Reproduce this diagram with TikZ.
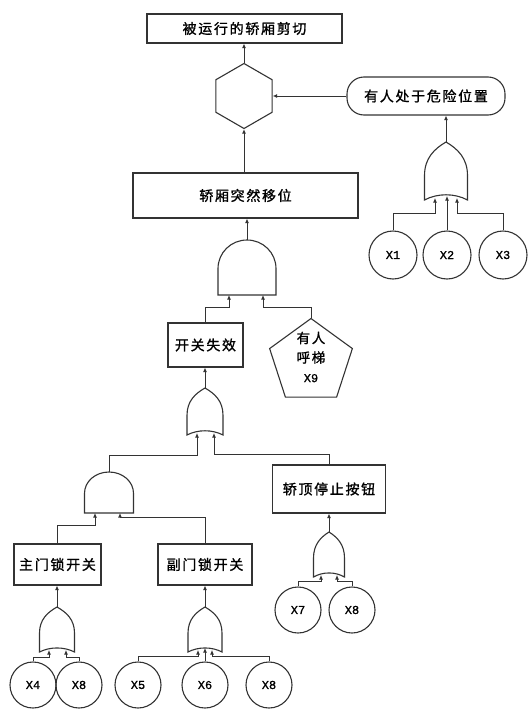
\documentclass[tikz,border=0pt]{standalone}
\usepackage{fontspec}
\setmainfont{Noto Sans CJK SC}[FakeBold=1]
\newfontfamily\cjkwide{Noto Sans CJK SC}[LetterSpace=12,FakeBold=1.2]
\newfontfamily\monof{Liberation Mono}[FakeBold=1]
\usetikzlibrary{shapes.geometric,arrows.meta,calc}
\definecolor{ln}{HTML}{333333}
\newcommand{\ORgate}[5]{%
  \pgfmathsetmacro{\gH}{#4-#3}%
  \pgfmathsetmacro{\gM}{(#3+#4)/2}%
  \node[gatebox, minimum width=2*#5pt, minimum height=\gH pt] (#1) at (#2,\gM) {};
  \begin{scope}[shift={(#1.south)}, x=#5pt, y=\gH pt]
    \draw[gateline] (-1,0) -- (-1,0.42) .. controls (-1,0.72) and (-0.55,0.88) .. (0,1)
      .. controls (0.55,0.88) and (1,0.72) .. (1,0.42) -- (1,0)
      .. controls (0.4,0.12) and (-0.4,0.12) .. cycle;
  \end{scope}}
\newcommand{\ANDgate}[5]{%
  \pgfmathsetmacro{\gH}{#4-#3}%
  \pgfmathsetmacro{\gM}{(#3+#4)/2}%
  \node[gatebox, minimum width=2*#5pt, minimum height=\gH pt] (#1) at (#2,\gM) {};
  \begin{scope}[shift={(#1.south)}, x=#5pt, y=\gH pt]
    \draw[gateline] (-1,0) -- (-1,0.48) .. controls (-1,0.77) and (-0.552,1) .. (0,1)
      .. controls (0.552,1) and (1,0.77) .. (1,0.48) -- (1,0) -- cycle;
  \end{scope}}
\begin{document}
\begin{tikzpicture}[x=1pt, y=-1pt,
  box/.style={draw=ln, line width=1.1pt, inner sep=0, align=center, fill=white,
    font=\cjkwide\fontsize{14}{16}\selectfont},
  ev/.style={circle, draw=ln, line width=1.1pt, inner sep=0, minimum size=46pt,
    font=\monof\fontsize{12}{14}\selectfont},
  gatebox/.style={inner sep=0, outer sep=0, draw=none},
  gateline/.style={draw=ln, line width=1.1pt},
  arr/.style={draw=ln, line width=1pt, -{Latex[length=4.5pt,width=4pt]}}]
\useasboundingbox (0,0) rectangle (530,715);
\fill[white] (0,0) rectangle (530,715);

% top part
\node[box, minimum width=195pt, minimum height=29pt] (top) at (244.5,28.5) {被运行的轿厢剪切};
\node[draw=ln, line width=1.1pt, regular polygon, regular polygon sides=6,
  shape border rotate=30, minimum size=65pt, inner sep=0] (hex) at (244,96) {};
\node[box, rounded corners=17pt, minimum width=158pt, minimum height=38pt] (danger) at (426,96) {有人处于危险位置};
\node[box, minimum width=225pt, minimum height=45pt] (move) at (245.5,195.5) {轿厢突然移位};

\ORgate{gA}{446}{142}{200}{21.5}
\coordinate (gA-1) at (435,198);
\coordinate (gA-2) at (447,196);
\coordinate (gA-3) at (457,198);
\node[ev, minimum size=48pt] (X1) at (393,255) {X1};
\node[ev, minimum size=48pt] (X2) at (447,255) {X2};
\node[ev, minimum size=48pt] (X3) at (503,255) {X3};

% middle part
\ANDgate{gB}{247}{240}{295}{29}
\coordinate (gB-1) at (229,295);
\coordinate (gB-2) at (263,295);
\node[box, minimum width=75pt, minimum height=44pt] (fail) at (205.5,345) {开关失效};
\node[draw=ln, line width=1.1pt, regular polygon, regular polygon sides=5,
  minimum size=87pt, inner sep=0] (x9) at (311,362) {};
\node[align=center, inner sep=0, font=\cjkwide\fontsize{13.5}{19.5}\selectfont] (x9t) at (311,357)
  {有人\\呼梯\\{\monof\fontsize{12}{19.5}\selectfont X9}};

\ORgate{gC}{205}{388}{435}{18}
\coordinate (gC-1) at (197,433);
\coordinate (gC-2) at (214,433);
\ANDgate{gD}{109}{472}{513}{24.5}
\coordinate (gD-1) at (95,513);
\coordinate (gD-2) at (120,513);
\node[box, minimum width=113pt, minimum height=48pt] (stop) at (329,489) {轿顶停止按钮};
\node[box, minimum width=87pt, minimum height=41pt] (mainlock) at (57.5,564.5) {主门锁开关};
\node[box, minimum width=94pt, minimum height=41pt] (sublock) at (205,564.5) {副门锁开关};

\ORgate{gE}{329}{532}{577}{15.5}
\coordinate (gE-1) at (321,575);
\coordinate (gE-2) at (337,575);
\node[ev] (X7) at (298,610) {X7};
\node[ev] (X8a) at (352,610) {X8};

\ORgate{gF}{57}{607}{652}{17.5}
\coordinate (gF-1) at (49,650);
\coordinate (gF-2) at (66,650);
\node[ev] (X4) at (33,685) {X4};
\node[ev] (X8b) at (79,685) {X8};

\ORgate{gG}{205}{607}{652}{17}
\coordinate (gG-1) at (198,650);
\coordinate (gG-2) at (205,648);
\coordinate (gG-3) at (212,650);
\node[ev] (X5) at (138,685) {X5};
\node[ev] (X6) at (205,685) {X6};
\node[ev] (X8c) at (269,685) {X8};

% connectors
\draw[arr] (hex.north) -- (hex.north |- top.south);
\draw[arr] (hex.south |- move.north) -- (hex.south);
\draw[arr] (danger.west) -- (hex.east);
\draw[arr] (gA.north) -- (gA.north |- danger.south);
\draw[arr] (X1.north) -- ++(0,-17) -| (gA-1);
\draw[arr] (X2.north) -- (gA-2);
\draw[arr] (X3.north) -- ++(0,-17) -| (gA-3);

\draw[arr] (gB.north) -- (gB.north |- move.south);
\draw[arr] (fail.north) -- ++(0,-15) -| (gB-1);
\draw[arr] (x9.north) -- ++(0,-10) -| (gB-2);

\draw[arr] (gC.north) -- (gC.north |- fail.south);
\draw[arr] (gD.north) -- ++(0,-17) -| (gC-1);
\draw[arr] (stop.north) -- ++(0,-10) -| (gC-2);

\draw[arr] (mainlock.north) -- ++(0,-18) -| (gD-1);
\draw[arr] (sublock.north) -- ++(0,-26) -| (gD-2);

\draw[arr] (gE.north) -- (gE.north |- stop.south);
\draw[arr] (X7.north) -- ++(0,-5) -| (gE-1);
\draw[arr] (X8a.north) -- ++(0,-5) -| (gE-2);

\draw[arr] (gF.north) -- (gF.north |- mainlock.south);
\draw[arr] (X4.north) -- ++(0,-4) -| (gF-1);
\draw[arr] (X8b.north) -- ++(0,-4) -| (gF-2);

\draw[arr] (gG.north) -- (gG.north |- sublock.south);
\draw[arr] (X5.north) -- ++(0,-5) -| (gG-1);
\draw[arr] (X6.north) -- (gG-2);
\draw[arr] (X8c.north) -- ++(0,-5) -| (gG-3);
\end{tikzpicture}
\end{document}
